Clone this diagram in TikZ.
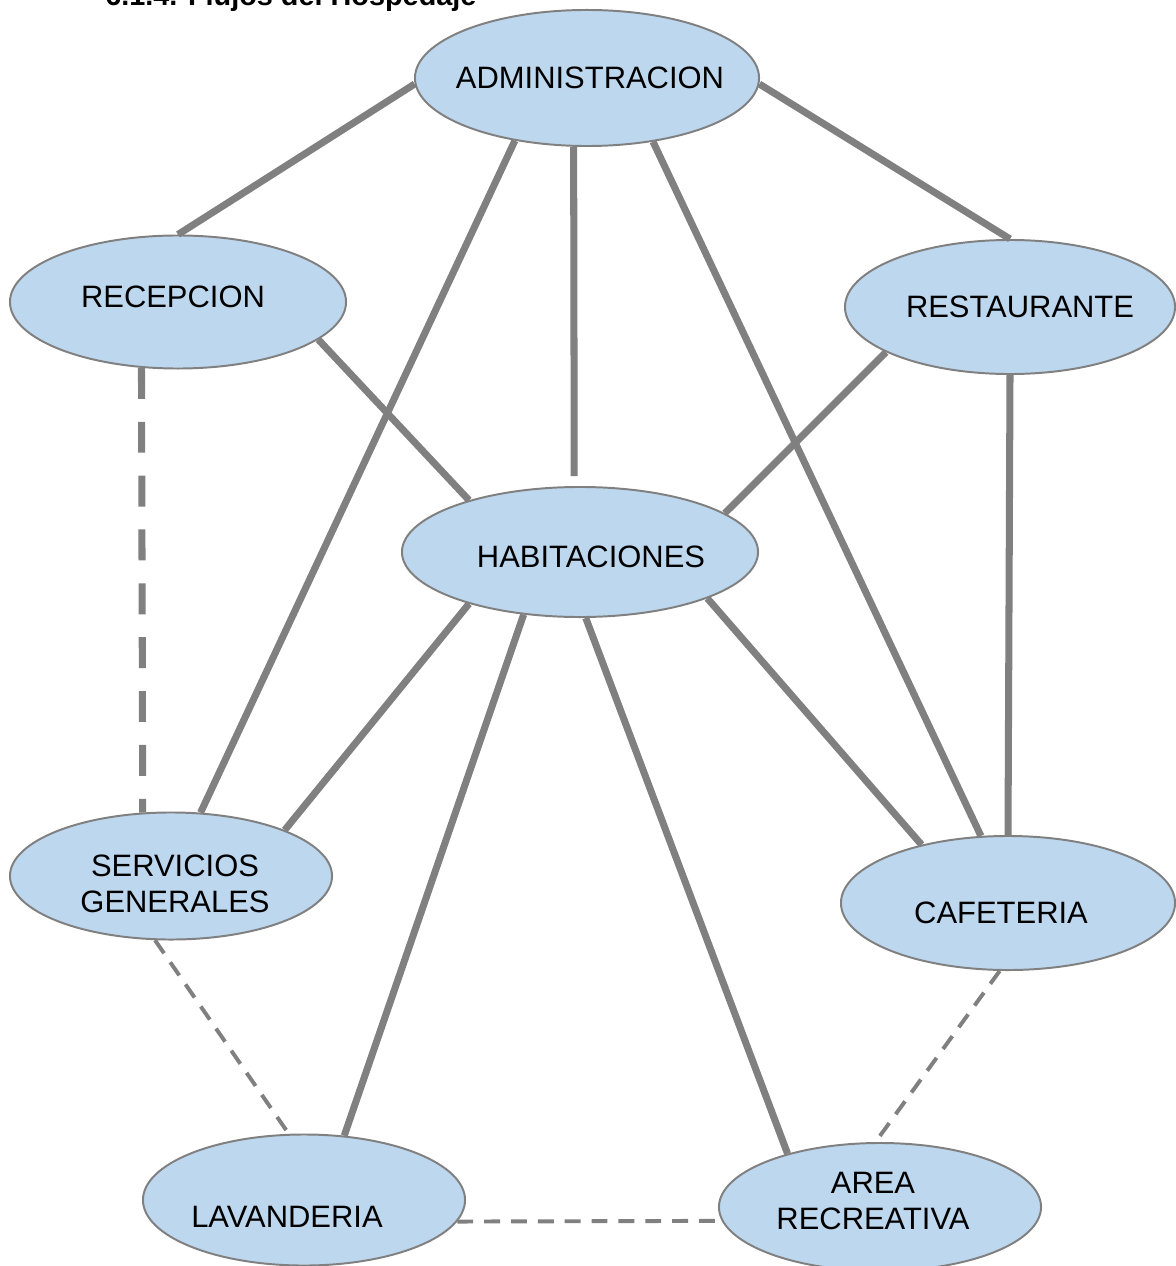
\documentclass[tikz,border=0pt]{standalone}
\usepackage{fontspec}
\setmainfont{Liberation Sans}
\usetikzlibrary{shapes.geometric}
\definecolor{blobfill}{RGB}{189,215,238}
\definecolor{linegray}{RGB}{128,128,128}

\begin{document}
\begin{tikzpicture}[x=0.025cm, y=-0.025cm,
  blob/.style={ellipse, draw=linegray, line width=1.4pt, fill=blobfill, inner sep=0pt},
  lbl/.style={font=\fontsize{22}{26}\selectfont, align=center},
  flow/.style={draw=linegray, line width=5pt},
  flowdash/.style={draw=linegray, line width=5pt, dash pattern=on 22pt off 16.3pt},
  thindash/.style={draw=linegray, line width=2.8pt, dash pattern=on 11.3pt off 7.8pt}]
  \useasboundingbox (0,0) rectangle (1175,1266);
  % Title (cut off at the top)
  \node[anchor=base west, inner sep=0pt, font=\bfseries\fontsize{20.5}{24}\selectfont] (title) at (105,6) {6.1.4. Flujos del Hospedaje};
  % Areas
  \node[blob, minimum width=8.6cm, minimum height=3.4cm,
    label={[lbl, xshift=0.075cm]center:ADMINISTRACION}] (adm) at (587,78) {};
  \node[blob, minimum width=8.4cm, minimum height=3.325cm,
    label={[lbl, xshift=-0.125cm, yshift=0.125cm]center:RECEPCION}] (rec) at (178,302) {};
  \node[blob, minimum width=8.25cm, minimum height=3.35cm,
    label={[lbl, xshift=0.25cm]center:RESTAURANTE}] (rest) at (1010,307) {};
  \node[blob, minimum width=8.9cm, minimum height=3.25cm,
    label={[lbl, xshift=0.275cm, yshift=-0.125cm]center:HABITACIONES}] (hab) at (580,552) {};
  \node[blob, minimum width=8.05cm, minimum height=3.175cm,
    label={[lbl, xshift=0.1cm, yshift=-0.2cm]center:SERVICIOS\\GENERALES}] (serv) at (171,876) {};
  \node[blob, minimum width=8.35cm, minimum height=3.35cm,
    label={[lbl, xshift=-0.175cm, yshift=-0.25cm]center:CAFETERIA}] (caf) at (1008,903) {};
  \node[blob, minimum width=8.05cm, minimum height=3.275cm,
    label={[lbl, xshift=-0.425cm, yshift=-0.425cm]center:LAVANDERIA}] (lav) at (304,1200) {};
  \node[blob, minimum width=8.05cm, minimum height=3.2cm,
    label={[lbl, xshift=-0.175cm, yshift=0.15cm]center:AREA\\RECREATIVA}] (rec2) at (880,1207) {};
  % Flows from administracion
  \draw[flow] (adm.182) -- (rec.north);
  \draw[flow] (adm.358) -- (rest.north);
  \draw[flow, shorten >=7pt] (adm.259) -- (hab.95);
  \draw[flow] (adm.221) -- (serv.65);
  \draw[flow] (adm.316) -- (caf.112);
  % Flows to habitaciones
  \draw[flow] (rec.345) -- (hab.155);
  \draw[flow] (rest.200) -- (hab.15);
  \draw[flow] (hab.205) -- (serv.22);
  \draw[flow] (hab.228) -- (lav.58);
  \draw[flow] (hab.275) -- (rec2.150);
  \draw[flow] (hab.340) -- (caf.146);
  \draw[flow] (rest.south) -- (caf.north);
  % Secondary flows
  \draw[flowdash] (rec.241) -- (serv.114);
  \draw[thindash] (serv.256) -- (lav.103);
  \draw[thindash] (lav.352) -- (rec2.185);
  \draw[thindash] (caf.263) -- (rec2.94);
\end{tikzpicture}
\end{document}
